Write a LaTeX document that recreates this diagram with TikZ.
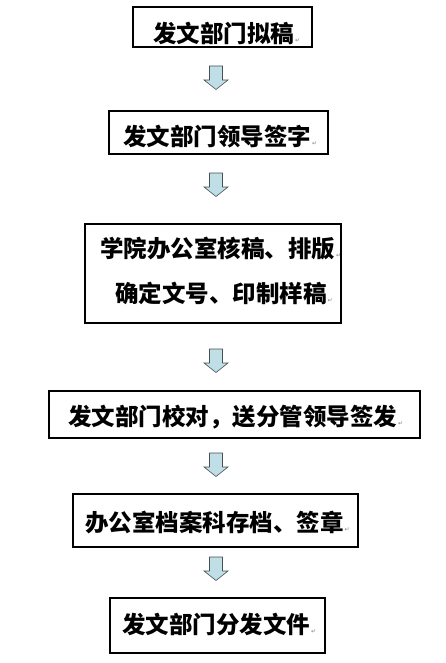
\documentclass[tikz,border=0pt]{standalone}
\usepackage{fontspec}
\newfontfamily\cjkfont{Noto Sans CJK SC}
\newfontfamily\symfont{DejaVu Sans}
\definecolor{arrowfill}{RGB}{192,222,230}
\definecolor{arrowline}{RGB}{70,80,85}
\newcommand{\retmark}{{\mdseries\symfont\fontsize{6}{6}\selectfont\color{gray}\,↵}}
\begin{document}
\begin{tikzpicture}[x=1pt,y=-1pt,
  box/.style={draw=black, line width=1.1pt, inner sep=0pt},
  txt/.style={anchor=west, inner sep=0pt, font=\cjkfont\bfseries\fontsize{23.5}{45}\selectfont},
  dnarrow/.pic={\draw[draw=arrowline, fill=arrowfill, line width=0.6pt]
     (-6.5,0) -- (6.5,0) -- (6.5,14) -- (12,14) -- (0,23.5) -- (-12,14) -- (-6.5,14) -- cycle;}
]
\useasboundingbox (0,0) rectangle (446,663);
% boxes
\node[box, minimum width=179pt, minimum height=40pt] (b1) at (222.5,27) {};
\node[box, minimum width=219pt, minimum height=43pt] (b2) at (218.5,132.5) {};
\node[box, minimum width=256pt, minimum height=99pt] (b3) at (213,273.5) {};
\node[box, minimum width=371pt, minimum height=47pt] (b4) at (234.5,414.5) {};
\node[box, minimum width=285pt, minimum height=53pt] (b5) at (215.5,520.5) {};
\node[box, minimum width=215pt, minimum height=55pt] (b6) at (217.5,625.5) {};
% texts
\node[txt] (t1) at (153,33) {发文部门拟稿\retmark};
\node[txt] (t2) at (123,137) {发文部门领导签字\retmark};
\node[txt, align=left] (t3) at (100,270.5) {学院办公室核稿、排版\retmark\\\hspace*{15pt}确定文号、印制样稿\retmark};
\node[txt] (t4) at (68,417) {发文部门校对，送分管领导签发\retmark};
\node[txt] (t5) at (85,522.5) {办公室档案科存档、签章\retmark};
\node[txt] (t6) at (122,624.5) {发文部门分发文件\retmark};
% block arrows
\coordinate (a1) at (216,66);
\coordinate (a2) at (216,173);
\coordinate (a3) at (216,349);
\coordinate (a4) at (216,453);
\coordinate (a5) at (216,557);
\pic at (a1) {dnarrow};
\pic at (a2) {dnarrow};
\pic at (a3) {dnarrow};
\pic at (a4) {dnarrow};
\pic at (a5) {dnarrow};
\end{tikzpicture}
\end{document}
